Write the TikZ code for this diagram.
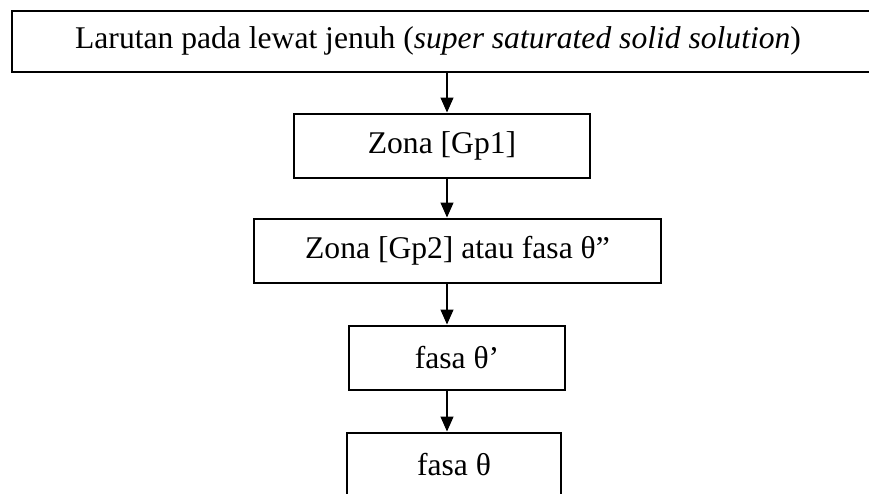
\documentclass[tikz,border=0pt]{standalone}
\usepackage{fontspec}
\setmainfont{Liberation Serif}
\usetikzlibrary{arrows.meta, positioning}

\begin{document}
\begin{tikzpicture}[
    x=1pt, y=1pt,
    font=\fontsize{31.6}{37}\selectfont,
    >={Triangle[length=15pt, width=13pt]},
    stage/.style = {
        rectangle, draw, line width=2pt,
        minimum height=64pt, inner sep=0pt,
        text centered, align=center
    },
    arrow/.style = {->, line width=1.2pt}
]
\useasboundingbox (0,0) rectangle (869,-493);

% ===== SOURCE =====
\node[stage, minimum width=860pt, minimum height=61pt] (sss) at (442,-41) {%
    Larutan pada lewat jenuh (\textit{super saturated solid solution})
};

% ===== ZONES =====
\node[stage, minimum width=296pt, below=40pt of sss] (gp1) {Zona [Gp1]};
\node[stage, minimum width=407pt, below=39pt of gp1, xshift=15.5pt] (gp2) {Zona [Gp2] atau fasa θ”};

% ===== PHASES =====
\node[stage, minimum width=216pt, below=41pt of gp2, xshift=-0.5pt] (tprime) {fasa θ’};
\node[stage, minimum width=214pt, below=41pt of tprime, xshift=-3pt] (theta) {fasa θ};

% ===== ARROWS =====
\coordinate (axis) at (447,0);
\draw[arrow] (sss.south -| axis)    -- (gp1.north -| axis);
\draw[arrow] (gp1.south -| axis)    -- (gp2.north -| axis);
\draw[arrow] (gp2.south -| axis)    -- (tprime.north -| axis);
\draw[arrow] (tprime.south -| axis) -- (theta.north -| axis);
\end{tikzpicture}
\end{document}
